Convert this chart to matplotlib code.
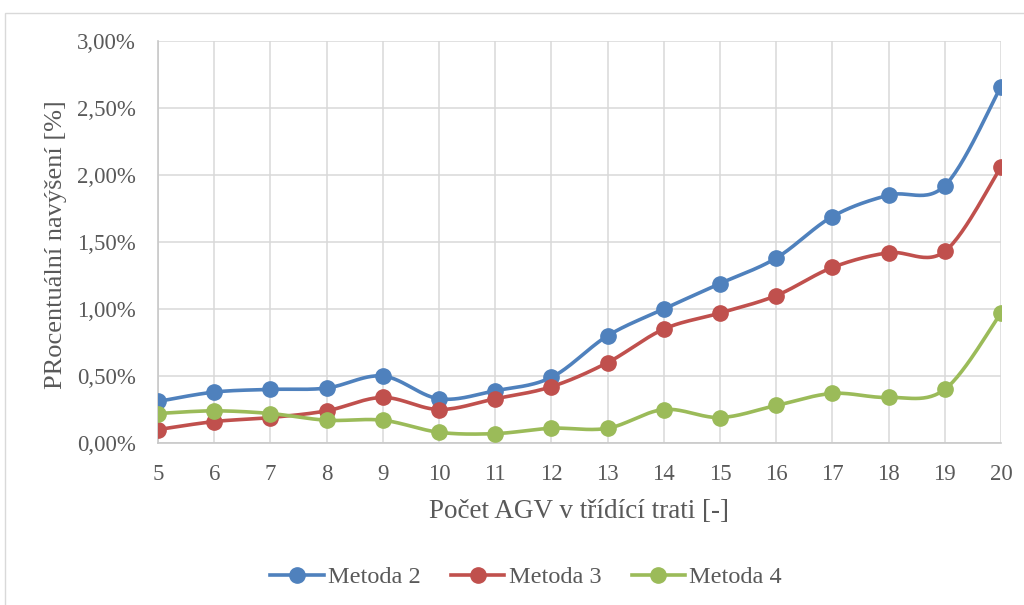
import numpy as np
import matplotlib
matplotlib.use("Agg")
import matplotlib.pyplot as plt
from matplotlib.patches import Rectangle
from matplotlib.ticker import FuncFormatter

plt.rcParams['font.family'] = ['Liberation Serif', 'DejaVu Serif']

agv_counts = [5, 6, 7, 8, 9, 10, 11, 12, 13, 14, 15, 16, 17, 18, 19, 20]
metoda_2 = [0.31, 0.38, 0.40, 0.41, 0.50, 0.33, 0.39, 0.49, 0.80, 1.00, 1.19, 1.38, 1.69, 1.85, 1.92, 2.66]
metoda_3 = [0.10, 0.16, 0.19, 0.24, 0.34, 0.25, 0.33, 0.42, 0.60, 0.85, 0.97, 1.10, 1.31, 1.42, 1.43, 2.06]
metoda_4 = [0.22, 0.24, 0.22, 0.17, 0.17, 0.08, 0.07, 0.11, 0.11, 0.25, 0.19, 0.28, 0.37, 0.34, 0.40, 0.97]

series = [
    ("Metoda 2", metoda_2, "#4F81BD"),
    ("Metoda 3", metoda_3, "#C0504D"),
    ("Metoda 4", metoda_4, "#9BBB59"),
]

TEXT = "#595959"


def smooth_curve(x, y, steps=30):
    """Catmull-Rom style smoothing through every point."""
    x = np.asarray(x, float)
    y = np.asarray(y, float)
    px = np.concatenate([[x[0]], x, [x[-1]]])
    py = np.concatenate([[y[0]], y, [y[-1]]])
    out_x, out_y = [], []
    t = np.linspace(0, 1, steps)
    for i in range(1, len(px) - 2):
        p0, p1, p2, p3 = (np.array([px[j], py[j]]) for j in (i - 1, i, i + 1, i + 2))
        c1 = p1 + (p2 - p0) / 6.0
        c2 = p2 - (p3 - p1) / 6.0
        b = ((1 - t) ** 3)[:, None] * p1 + (3 * (1 - t) ** 2 * t)[:, None] * c1 \
            + (3 * (1 - t) * t ** 2)[:, None] * c2 + (t ** 3)[:, None] * p2
        out_x.extend(b[:, 0])
        out_y.extend(b[:, 1])
    return np.array(out_x), np.array(out_y)


W, H = 1024, 605
fig = plt.figure(figsize=(W / 100, H / 100), dpi=100)
fig.patch.set_facecolor("white")
fig.patches.append(Rectangle((4.5 / W, -0.05), 1.2, 0.05 + 1 - 13 / H,
                             transform=fig.transFigure, fill=False,
                             edgecolor="#d9d9d9", linewidth=1.0))

ax = fig.add_axes([158 / W, 1 - 443 / H, (1001 - 158) / W, (443 - 41) / H])

handles = []
for name, vals, color in series:
    sx, sy = smooth_curve(agv_counts, vals)
    ax.plot(sx, sy, color=color, lw=2.6, solid_capstyle="round", zorder=3)
    ax.plot(agv_counts, vals, "o", color=color, ms=11, zorder=4)
    h, = ax.plot([], [], color=color, lw=2.6, marker="o", ms=11, label=name)
    handles.append(h)

ax.set_xlim(5, 20)
ax.set_ylim(0, 3.0)
ax.set_xticks(agv_counts)
ax.set_yticks(np.arange(0, 3.01, 0.5))
ax.yaxis.set_major_formatter(FuncFormatter(lambda v, _: f"{v:.2f}%".replace(".", ",")))
ax.grid(True, color="#d9d9d9", linewidth=1.1, zorder=0)
ax.set_axisbelow(True)
for side in ("top", "right"):
    ax.spines[side].set_visible(False)
for side in ("left", "bottom"):
    ax.spines[side].set_color("#c8c8c8")
    ax.spines[side].set_linewidth(1.2)
ax.tick_params(length=0, labelsize=16.5, labelcolor=TEXT)
ax.tick_params(axis="x", pad=15)
ax.tick_params(axis="y", pad=16)

fig.text(579 / W, 1 - 518 / H, "Počet AGV v třídící trati [-]", fontsize=19.5,
         color=TEXT, ha="center", va="baseline")
fig.text(62 / W, 1 - 245 / H, "PRocentuální navýšení [%]", fontsize=19,
         color=TEXT, ha="center", va="baseline", rotation=90, rotation_mode="anchor")

fig.legend(handles=handles, loc="center", bbox_to_anchor=(526 / W, 1 - 577 / H),
           ncol=3, frameon=False, fontsize=17.5, handlelength=2.2, columnspacing=1.25,
           handletextpad=0.17, labelcolor=TEXT, borderpad=0)

fig.savefig("out.png", dpi=100, facecolor="white")
